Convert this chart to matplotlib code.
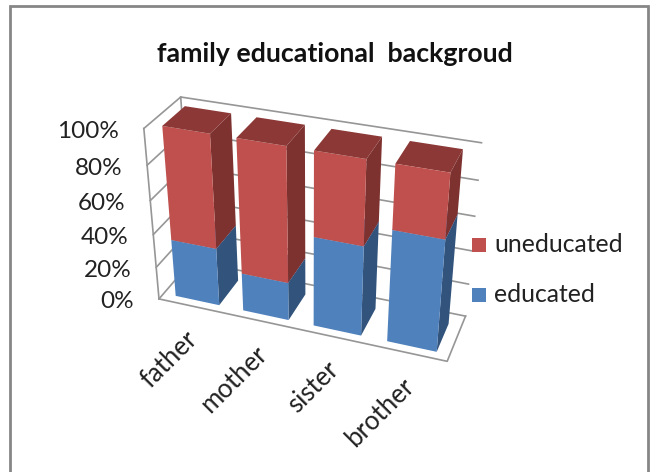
import numpy as np
import matplotlib
matplotlib.use("Agg")
import matplotlib.pyplot as plt
from matplotlib.patches import Rectangle
from mpl_toolkits.mplot3d import proj3d
from mpl_toolkits.mplot3d.art3d import Poly3DCollection

# ---------- DATA ----------
members = ["father", "mother", "sister", "brother"]
educated = [35, 23, 53, 65]
uneducated = [65, 77, 47, 35]
pct_ticks = [0, 20, 40, 60, 80, 100]

W, H = 650, 472
GRID = "#969696"
FONT = "Lato"

fig = plt.figure(figsize=(W / 100, H / 100), dpi=100)
fig.add_artist(Rectangle((10 / W, -0.02), 638 / W, 1 - 6 / H + 0.02, transform=fig.transFigure,
                         fill=False, edgecolor="#868686", linewidth=2))

# ---------- 3D AXES ----------
ax = fig.add_axes([68 / W, 4 / H, 472 / W, 472 / H], projection="3d")
ax.patch.set_alpha(0)
ax.set_proj_type("persp", focal_length=0.41)
ax.view_init(elev=30.5, azim=-70)
ax.set_box_aspect((311, 80, 198), zoom=0.78)
ax.set_axis_off()
ax.computed_zorder = False
ax.set_xlim(0, 4)
ax.set_ylim(0, 1)
ax.set_zlim(0, 100)

# walls and gridlines
for p in pct_ticks:
    ax.plot([0, 0, 4], [0, 1, 1], [p, p, p], color=GRID, lw=1.2, zorder=1, clip_on=False)
ax.plot([0, 0], [0, 0], [0, 100], color=GRID, lw=1.2, zorder=1, clip_on=False)
ax.plot([0, 0], [1, 1], [0, 100], color=GRID, lw=1.2, zorder=1, clip_on=False)
ax.plot([0, 4, 4], [0, 0, 1], [0, 0, 0], color=GRID, lw=1.2, zorder=1, clip_on=False)


# ---------- BARS ----------
def draw_box(x, z0, h, front, side, top, zorder):
    x0, x1 = x + 0.18, x + 0.83
    y0, y1 = 0.14, 0.76
    z1 = z0 + h
    faces = [
        [(x0, y0, z0), (x1, y0, z0), (x1, y0, z1), (x0, y0, z1)],
        [(x1, y0, z0), (x1, y1, z0), (x1, y1, z1), (x1, y0, z1)],
        [(x0, y0, z1), (x1, y0, z1), (x1, y1, z1), (x0, y1, z1)],
    ]
    pc = Poly3DCollection(faces, facecolors=[front, side, top], edgecolors="none", zorder=zorder)
    ax.add_collection3d(pc)


for i in range(len(members)):
    draw_box(i, 0, educated[i], "#4f81bd", "#31537c", "#4f81bd", 2 + 2 * i)
    draw_box(i, educated[i], uneducated[i], "#c0504d", "#7d3230", "#8c3836", 3 + 2 * i)

fig.canvas.draw()
M = ax.get_proj()


def to_fig(x, y, z):
    px, py, _ = proj3d.proj_transform(x, y, z, M)
    return fig.transFigure.inverted().transform(ax.transData.transform((px, py)))


# ---------- TEXT ----------
for p in pct_ticks:
    fx, fy = to_fig(0, 0, p)
    fig.text(fx - 25 / W, fy - 3 / H, f"{p}%", ha="right", va="center", fontsize=17.5, family=FONT, color="#222222")

for i, m in enumerate(members):
    fx, fy = to_fig(i + 0.62, 0, 0)
    fig.text(fx - 7 / W, fy - 27 / H, m, ha="right", va="center", rotation=45, rotation_mode="anchor",
             fontsize=18.5, family=FONT, color="#222222")

fig.text(335 / W, 1 - 54 / H, "family educational  backgroud", ha="center", va="center",
         fontsize=19.3, fontweight="bold", family=FONT, color="#111111")

for label, c, y in [("uneducated", "#c0504d", 245), ("educated", "#4f81bd", 295)]:
    fig.add_artist(Rectangle((472 / W, 1 - (y + 7) / H), 14 / W, 14 / H, transform=fig.transFigure,
                             facecolor=c, edgecolor="none"))
    fig.text(494 / W, 1 - y / H, label, ha="left", va="center", fontsize=17.8, family=FONT, color="#222222")

fig.savefig("out.png", dpi=100)
